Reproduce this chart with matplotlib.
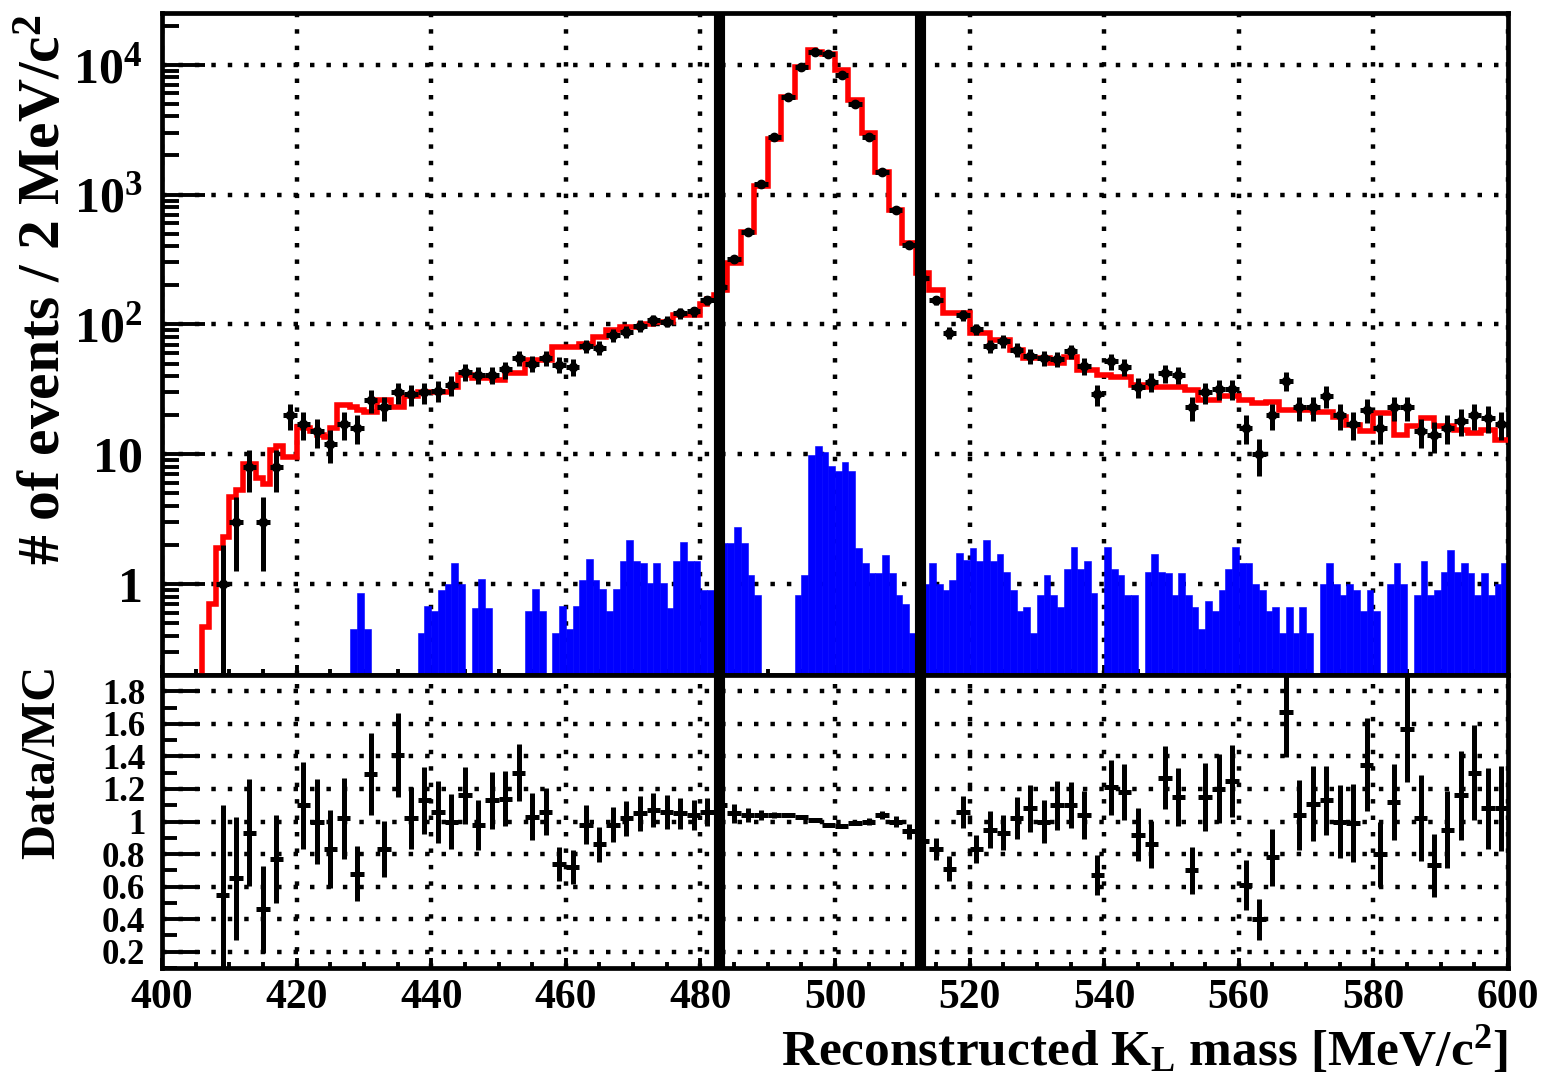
import numpy as np
import matplotlib
matplotlib.use('Agg')
import matplotlib.pyplot as plt
from matplotlib.ticker import MultipleLocator, LogLocator, FixedLocator, FuncFormatter, NullFormatter

plt.rcParams['font.family'] = ['Liberation Serif', 'DejaVu Serif']
plt.rcParams['font.weight'] = 'bold'
plt.rcParams['mathtext.fontset'] = 'custom'
plt.rcParams['mathtext.rm'] = 'Liberation Serif:bold'
plt.rcParams['mathtext.bf'] = 'Liberation Serif:bold'
plt.rcParams['mathtext.it'] = 'Liberation Serif:italic:bold'

# MC shapes in 1 MeV bins starting at 400 MeV
mc_total = [
    0, 0, 0, 0, 0, 0, 0.47, 0.71, 1.9, 2.3,
    4.7, 5.3, 8.5, 8.5, 6.6, 5.9, 10.8, 11.5, 9.6, 9.6,
    16.3, 16, 15, 14, 13.7, 15.9, 24, 24, 23, 22,
    21, 21, 26, 26, 23, 23, 28, 28, 30, 30,
    30, 30, 30, 33, 41, 41, 38.6, 38.6, 38.6, 37.3,
    37.3, 42, 42, 42, 52.8, 52.8, 52.8, 52.8, 67.5, 67.5,
    67.5, 67.5, 71, 71, 80, 80, 90, 90, 95, 95,
    95, 101, 101, 105, 105, 105, 118, 118, 118, 118,
    143, 158, 170, 184, 296, 296, 518, 518, 1170, 1170,
    2700, 2700, 5660, 5660, 9620, 9620, 12940, 12560, 12190, 12190,
    9070, 9070, 5330, 5330, 2955, 2955, 1497, 1497, 760, 760,
    421, 421, 248, 248, 184, 184, 122, 122, 122, 122,
    86, 86, 86, 76, 76, 76, 64, 64, 55, 55,
    55, 55, 50.5, 50.5, 56, 56, 44.7, 44.7, 44.7, 40.8,
    40.8, 39.7, 39.7, 39.7, 34.4, 34.4, 33, 33, 33, 33,
    33, 33, 31.3, 31.3, 26.3, 26.3, 26.3, 27.9, 27.9, 27.9,
    26.3, 26.3, 24.7, 24.7, 25.5, 25.5, 21.9, 21.9, 21.9, 21.9,
    21.9, 21.3, 21.3, 21.3, 19.5, 19.5, 16.9, 16.9, 15, 15,
    20.7, 20.7, 20.7, 14.1, 14.1, 16.4, 16.4, 19, 19, 16.4,
    16.4, 16.4, 15.4, 15.4, 14.5, 14.5, 15.4, 15.4, 12.9, 12.9,
]

mc_bkg = [
    0, 0, 0, 0, 0, 0, 0, 0, 0, 0,
    0, 0, 0, 0, 0, 0, 0, 0, 0, 0,
    0, 0, 0, 0, 0, 0, 0, 0, 0.45, 0.85,
    0.45, 0, 0, 0, 0, 0, 0, 0, 0.42, 0.68,
    0.62, 0.91, 1.0, 1.45, 1.0, 0, 0.66, 1.1, 0.66, 0,
    0, 0, 0, 0, 0.62, 0.92, 0.62, 0, 0.42, 0.68,
    0.45, 0.68, 1.08, 1.56, 1.08, 0.92, 0.62, 0.92, 1.5, 2.2,
    1.5, 1.45, 1.03, 1.45, 1.03, 0.66, 1.5, 2.1, 1.5, 1.5,
    0.9, 0.9, 0.62, 2.07, 2.07, 2.78, 2.07, 1.18, 0.83, 0,
    0, 0, 0, 0, 0.83, 1.18, 9.9, 11.5, 10.5, 8.1,
    7.4, 8.8, 7.4, 1.9, 1.45, 1.22, 1.22, 1.69, 1.22, 0.83,
    0.70, 0.42, 0.42, 1.0, 1.46, 1.0, 0.9, 1.08, 1.74, 1.54,
    1.9, 1.5, 2.2, 1.5, 1.7, 1.25, 0.9, 0.62, 0.67, 0.42,
    0.83, 1.18, 0.83, 0.67, 1.3, 1.95, 1.3, 1.5, 0.85, 0,
    1.95, 1.3, 1.18, 0.83, 0.83, 0, 1.25, 1.7, 1.25, 1.22,
    0.83, 1.22, 0.83, 0.67, 0.45, 0.74, 0.62, 0.9, 1.3, 1.95,
    1.46, 1.46, 1.0, 0.9, 0.62, 0.67, 0.42, 0.67, 0.42, 0.67,
    0.42, 0, 1.0, 1.46, 1.0, 0.83, 1.0, 0.9, 0.62, 0.9,
    0.62, 0, 1.0, 1.46, 1.0, 0, 0.83, 1.5, 0.83, 0.9,
    1.25, 1.85, 1.25, 1.46, 1.22, 0.83, 1.22, 0.83, 1.0, 1.46,
]

# data in 2 MeV bins, centres 409 ... 599
data_x = np.arange(409, 600, 2)
data_n = [
    1, 3, 8, 3, 8, 20, 17, 15, 12, 17,
    16, 26, 23, 30, 29, 30, 31, 34, 43, 41,
    41, 45, 55, 50, 55, 49, 47, 68, 66, 83,
    88, 98, 108, 105, 122, 126, 154, 195, 317, 518,
    1205, 2786, 5660, 9620, 12560, 12190, 8300, 5025, 2787, 1500,
    759, 409, 226, 154, 86, 118, 92, 68, 74, 64,
    57, 55, 54, 62, 48, 29, 52, 47, 33, 36,
    42, 41, 23, 30, 32, 32, 16, 10, 20, 37,
    23, 23, 28, 20, 17, 22, 16, 23, 23, 15,
    14, 16, 18, 20, 19, 17,
]
ratio = [
    0.55, 0.65, 0.93, 0.46, 0.77, np.nan, 1.10, 1.00, 0.83, 1.02,
    0.68, 1.29, 0.83, 1.41, 1.02, 1.13, 1.06, 1.00, 1.16, 0.98,
    1.13, 1.14, 1.30, 1.03, 1.06, 0.74, 0.72, 0.98, 0.86, 0.98,
    1.02, 1.05, 1.07, 1.06, 1.05, 1.04, 1.06, 1.10, 1.05, 1.04,
    1.04, 1.04, 1.04, 1.03, 1.01, 0.98, 0.97, 0.99, 1.00, 1.04,
    1.00, 0.94, 0.88, 0.83, 0.71, 1.06, 0.83, 0.95, 0.93, 1.02,
    1.08, 1.00, 1.10, 1.10, 1.04, 0.67, 1.21, 1.18, 0.92, 0.86,
    1.27, 1.15, 0.70, 1.15, 1.20, 1.25, 0.61, 0.40, 0.78, 1.67,
    1.04, 1.11, 1.13, 1.00, 0.99, 1.35, 0.80, 1.12, 1.57, 1.02,
    0.73, 0.95, 1.16, 1.30, 1.08, 1.08,
]
cut_lo, cut_hi = 482.7, 512.7

edges = np.arange(400, 601, 1)
mc_total = np.array(mc_total, float)
mc_bkg = np.array(mc_bkg, float)
data_n = np.array(data_n, float)
ratio = np.array(ratio, float)
data_err = np.sqrt(data_n)
ratio_err = ratio / np.sqrt(data_n)

W, H = 1557, 1081
fig = plt.figure(figsize=(W / 100, H / 100), dpi=100)
L, R = 162, 1508
ax1 = fig.add_axes([L / W, 1 - 675 / H, (R - L) / W, (675 - 13) / H])
ax2 = fig.add_axes([L / W, 1 - 968 / H, (R - L) / W, (968 - 675) / H])

grid_kw = dict(color='black', lw=3.2, linestyle=(0, (1, 2.7)))

# upper pad
ax1.set_yscale('log')
ax1.bar(edges[:-1], mc_bkg, width=1, align='edge', color='#0000ff',
        edgecolor='#0000ff', linewidth=0.4, zorder=2)
ax1.stairs(np.where(mc_total > 0, mc_total, 1e-3), edges, color='red',
           lw=4, baseline=None, zorder=3)
ax1.errorbar(data_x, data_n, yerr=data_err, xerr=1, fmt='o', color='black',
             ms=6, elinewidth=3.6, capsize=0, zorder=4)
ax1.set_xlim(400, 600)
ax1.set_ylim(0.2, 2.5e4)
ax1.yaxis.set_major_locator(FixedLocator([1, 10, 100, 1000, 10000]))
ax1.yaxis.set_minor_locator(LogLocator(base=10, subs=np.arange(2, 10)))
ax1.yaxis.set_minor_formatter(NullFormatter())
ax1.set_yticklabels(['1', '10', r'$10^{2}$', r'$10^{3}$', r'$10^{4}$'])
ax1.xaxis.set_major_locator(MultipleLocator(20))
ax1.xaxis.set_minor_locator(MultipleLocator(5))
ax1.tick_params(axis='x', labelbottom=False)
ax1.grid(True, which='major', **grid_kw)

# lower pad: data / MC
ax2.errorbar(data_x, ratio, yerr=ratio_err, xerr=1, fmt='none', ecolor='black',
             elinewidth=3.6, capsize=0, zorder=4)
ax2.set_xlim(400, 600)
ax2.set_ylim(0.1, 1.9)
ax2.yaxis.set_major_locator(FixedLocator(np.arange(0.2, 1.81, 0.2)))
ax2.yaxis.set_minor_locator(MultipleLocator(0.1))
ax2.yaxis.set_major_formatter(FuncFormatter(lambda v, p: '%g' % round(v, 1)))
ax2.xaxis.set_major_locator(MultipleLocator(20))
ax2.xaxis.set_minor_locator(MultipleLocator(5))
ax2.grid(True, which='major', **grid_kw)

for ax in (ax1, ax2):
    ax.set_axisbelow(True)
    for s in ax.spines.values():
        s.set_linewidth(3.4)
    ax.tick_params(axis='both', which='both', direction='in', width=2.8,
                   top=False, right=False)
    ax.tick_params(axis='x', which='major', length=7)
    ax.tick_params(axis='x', which='minor', length=4)
    for x in (cut_lo, cut_hi):
        ax.axvline(x, color='black', lw=8, zorder=6)

ax1.tick_params(axis='y', which='major', length=31, labelsize=36, pad=14)
ax1.tick_params(axis='y', which='minor', length=12)
ax2.tick_params(axis='y', which='major', length=27, labelsize=25, pad=12)
ax2.tick_params(axis='y', which='minor', length=11)
ax2.tick_params(axis='x', which='major', labelsize=30, pad=8)

fig.text(46 / W, 1 - 290 / H, '# of events / 2 MeV/c$^{2}$', rotation=90,
         ha='center', va='center', fontsize=43)
fig.text(42 / W, 1 - 762 / H, 'Data/MC', rotation=90,
         ha='center', va='center', fontsize=35)
fig.text(R / W, 1 - 1050 / H, r'Reconstructed K$_{\rm L}$ mass [MeV/c$^{2}$]',
         ha='right', va='center', fontsize=37)

fig.savefig('out.png', dpi=100)
